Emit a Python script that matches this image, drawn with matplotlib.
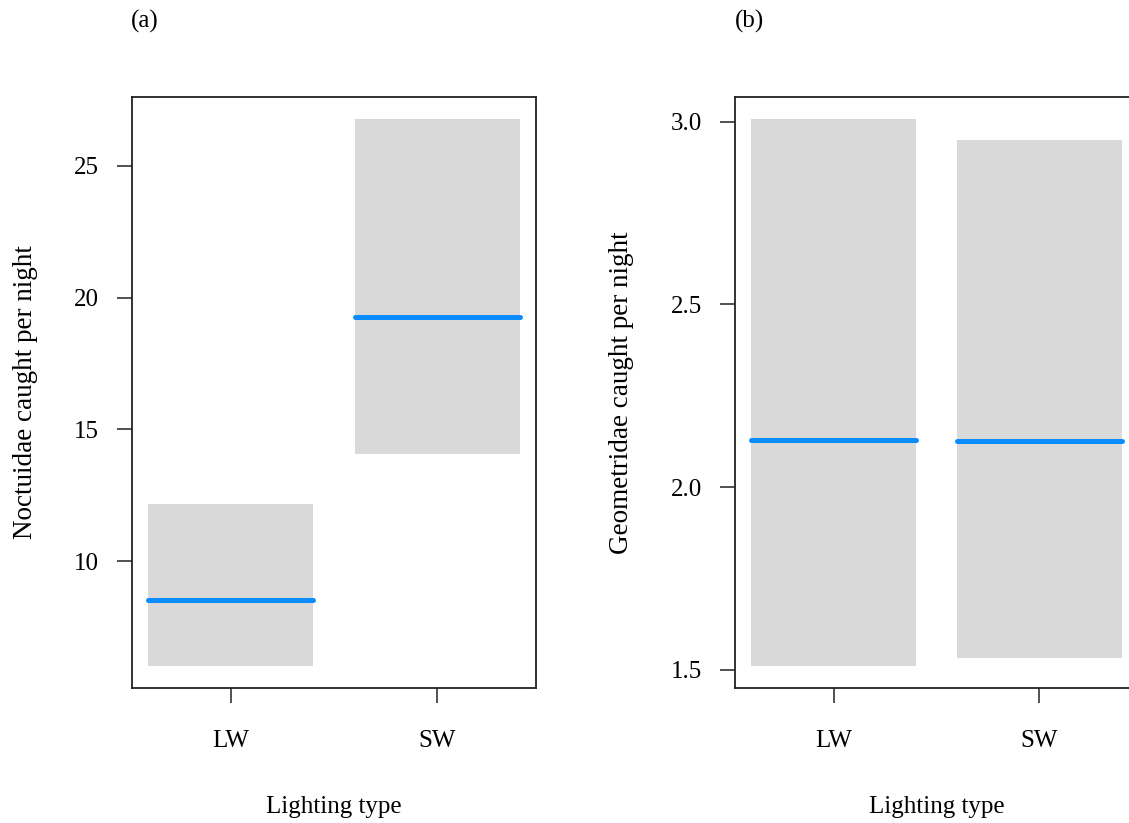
import matplotlib
matplotlib.use("Agg")
import matplotlib.pyplot as plt

plt.rcParams['font.family'] = ['Liberation Serif', 'DejaVu Serif']

categories = ["LW", "SW"]
# Panel (a): Noctuidae
noct_fit = [8.52, 19.28]
noct_lower = [6.02, 14.05]
noct_upper = [12.16, 26.78]
noct_yticks = [10, 15, 20, 25]
# Panel (b): Geometridae
geom_fit = [2.129, 2.127]
geom_lower = [1.511, 1.533]
geom_upper = [3.008, 2.951]
geom_yticks = [1.5, 2.0, 2.5, 3.0]

W, H = 1129, 823
fig = plt.figure(figsize=(W / 100, H / 100), dpi=100)

def px_axes(x0, y0, x1, y1):
    return fig.add_axes([x0 / W, 1 - y1 / H, (x1 - x0) / W, (y1 - y0) / H])

ax1 = px_axes(132, 97, 536, 688)
ax2 = px_axes(735, 97, 1138, 688)

FS = 18
blue = '#0A8CFF'
grey = '#D9D9D9'

def draw(ax, fit, lo, hi, yticks, ylim, ylabel, ticklabels):
    xs = [1, 2]
    hw = 0.4
    for x, f, l, h in zip(xs, fit, lo, hi):
        ax.fill_between([x - hw, x + hw], [l, l], [h, h], color=grey, linewidth=0, zorder=1)
        ax.plot([x - hw, x + hw], [f, f], color=blue, linewidth=3.6,
                solid_capstyle='round', zorder=2)
    ax.set_xlim(0.52, 2.48)
    ax.set_ylim(*ylim)
    ax.set_xticks(xs)
    ax.set_xticklabels(categories, fontsize=FS)
    ax.set_yticks(yticks)
    ax.set_yticklabels(ticklabels, fontsize=FS)
    ax.tick_params(length=11, width=1.1, color='#222222')
    ax.tick_params(axis='x', pad=19)
    ax.tick_params(axis='y', pad=13)
    for s in ax.spines.values():
        s.set_linewidth(1.3)
        s.set_color('#222222')
    ax.set_xlabel("Lighting type", fontsize=FS, labelpad=32)
    ax.set_ylabel(ylabel, fontsize=19.5, labelpad=26)

draw(ax1, noct_fit, noct_lower, noct_upper, noct_yticks, (5.19, 27.61),
     "Noctuidae caught per night", [str(t) for t in noct_yticks])
draw(ax2, geom_fit, geom_lower, geom_upper, geom_yticks, (1.45, 3.068),
     "Geometridae caught per night", [f"{t:.1f}" for t in geom_yticks])

fig.text(131 / W, 1 - 21 / H, "(a)", fontsize=FS, va='center', ha='left')
fig.text(735 / W, 1 - 21 / H, "(b)", fontsize=FS, va='center', ha='left')

fig.savefig("out.png", dpi=100)
